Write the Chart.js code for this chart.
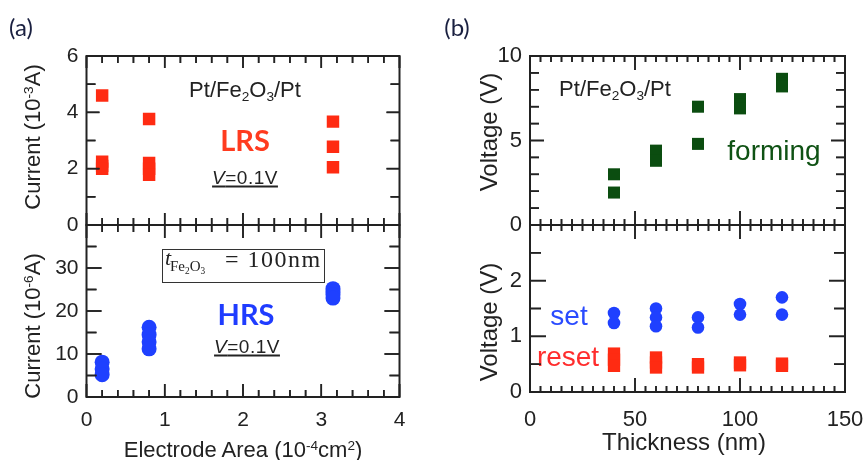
<!DOCTYPE html>
<html>
<head>
<meta charset="utf-8">
<script src="https://cdn.jsdelivr.net/npm/chart.js@4.4.1/dist/chart.umd.min.js"></script>
<style>
  html, body { margin: 0; padding: 0; background: #fff; }
  #fig { position: relative; width: 867px; height: 460px; overflow: hidden; font-family: "Liberation Sans", Arial, sans-serif; color: #222; }
  #fig canvas { position: absolute; left: 0; top: 0; }
  .t { position: absolute; transform: translate(-50%, -50%); white-space: nowrap; line-height: 1; }
  .rot { transform: translate(-50%, -50%) rotate(-90deg); }
  sup, sub { font-size: 0.62em; line-height: 0; position: relative; vertical-align: baseline; }
  sup { top: -0.55em; }
  sub { top: 0.3em; }
  .tag { font-family: Lato, "Open Sans", sans-serif; font-size: 24px; color: #1a2040; }
  .axa { font-size: 22px; }
  .axb { font-size: 24px; }
  .note { font-size: 22px; }
  .big { font-family: Lato, "Open Sans", sans-serif; font-weight: 700; font-size: 29px; }
  .word { font-size: 28px; }
  .volt { font-size: 19px; letter-spacing: 0.5px; text-decoration: underline; text-decoration-thickness: 1.5px; text-underline-offset: 2px; }
  .box { position: absolute; left: 162px; top: 249px; width: 163px; height: 34px; box-sizing: border-box; border: 1.5px solid #333; font-family: "Liberation Serif", "Times New Roman", serif; color: #222; }
  .box span { position: absolute; white-space: nowrap; line-height: 1; }
</style>
</head>
<body>
<div id="fig">
  <canvas id="aTop" width="867" height="460"></canvas>
  <canvas id="aBottom" width="867" height="460"></canvas>
  <canvas id="bTop" width="867" height="460"></canvas>
  <canvas id="bBottom" width="867" height="460"></canvas>

  <div class="t tag" style="left:21px;top:27px">(a)</div>
  <div class="t tag" style="left:457px;top:27px">(b)</div>

  <div class="t rot axa" style="left:33px;top:137px">Current (10<sup>-3</sup>A)</div>
  <div class="t rot axa" style="left:33px;top:326px">Current (10<sup>-6</sup>A)</div>
  <div class="t axa" style="left:243px;top:450px">Electrode Area (10<sup>-4</sup>cm<sup>2</sup>)</div>
  <div class="t rot axb" style="left:489px;top:132px">Voltage (V)</div>
  <div class="t rot axb" style="left:489px;top:322px">Voltage (V)</div>
  <div class="t axb" style="left:684px;top:442px">Thickness (nm)</div>

  <div class="t note" style="left:245px;top:90px">Pt/Fe<sub>2</sub>O<sub>3</sub>/Pt</div>
  <div class="t big" style="left:245px;top:139px;color:#ff3b1f">LRS</div>
  <div class="t volt" style="left:245px;top:177px"><i>V</i>=0.1V</div>
  <div class="box">
    <span style="left:2px;top:-3px;font-size:22px;font-style:italic">t</span>
    <span style="left:7px;top:9px;font-size:15px">Fe<sub>2</sub>O<sub>3</sub></span>
    <span style="left:62px;top:-3px;font-size:24px;letter-spacing:1.5px">= 100nm</span>
  </div>
  <div class="t big" style="left:246px;top:313px;color:#1f3cff">HRS</div>
  <div class="t volt" style="left:247px;top:346px"><i>V</i>=0.1V</div>

  <div class="t note" style="left:615px;top:89px">Pt/Fe<sub>2</sub>O<sub>3</sub>/Pt</div>
  <div class="t word" style="left:774px;top:151px;color:#0f5214">forming</div>
  <div class="t word" style="left:569px;top:316px;color:#2a4bff">set</div>
  <div class="t word" style="left:568px;top:357px;color:#ff2d2d">reset</div>

  <canvas id="ticks" width="867" height="460"></canvas>
</div>

<script>
// values, grouped per x position
const electrodeArea = [0.2, 0.8, 3.15];
const lrsCurrent = [[4.6, 2.25, 2.1, 2.0], [3.76, 2.2, 2.0, 1.78], [3.67, 2.78, 2.05]];
const hrsCurrent = [[8.1, 6.5, 5.2], [16.2, 14.5, 12.8, 11.2], [25.2, 24.5, 23.8, 23.0]];
const areaTicks = [0, 1, 2, 3, 4];
const lrsTicks = [0, 2, 4, 6];
const hrsTicks = [0, 10, 20, 30];

const thickness = [40, 60, 80, 100, 120];
const formingVoltage = [[3.0, 1.92], [4.4, 4.1, 3.8], [7.0, 4.8], [7.45, 7.15, 6.9], [8.65, 8.4, 8.2]];
const setVoltage = [[1.42, 1.24], [1.5, 1.34, 1.18], [1.34, 1.16], [1.58, 1.39], [1.7, 1.39]];
const resetVoltage = [[0.69, 0.58, 0.47], [0.62, 0.53, 0.44], [0.5, 0.44], [0.53, 0.48], [0.51, 0.47]];
const thicknessTicks = [0, 50, 100, 150];
const formingTicks = [0, 5, 10];
const switchTicks = [0, 1, 2];

const RED = "#ff2b12";
const BLUE = "#1f40ff";
const GREEN = "#0b4d10";
const INK = "#222";
const FONT = '"Liberation Sans", Arial, sans-serif';

const toPoints = (xs, groups) => xs.flatMap((x, i) => groups[i].map((y) => ({ x, y })));

// inward ticks on all four sides, placed with the chart's own scales
const drawTicks = (ctx, chart, f) => {
    const a = chart.chartArea;
    const xs = chart.scales.x;
    const ys = chart.scales.y;
    const isMajor = (v, step) => Math.abs(v / step - Math.round(v / step)) < 1e-6;
    const w = 1.6;
    ctx.save();
    ctx.fillStyle = INK;
    const nx = Math.round((xs.max - xs.min) / f.xMinor);
    for (let i = 0; i <= nx; i++) {
        const v = xs.min + i * f.xMinor;
        const px = xs.getPixelForValue(v);
        const len = isMajor(v, f.xMajor) ? f.xLen[0] : f.xLen[1];
        ctx.fillRect(px - w / 2, a.bottom - len, w, len);
        ctx.fillRect(px - w / 2, a.top, w, len);
    }
    const ny = Math.round((ys.max - ys.min) / f.yMinor);
    for (let i = 0; i <= ny; i++) {
        const v = ys.min + i * f.yMinor;
        const py = ys.getPixelForValue(v);
        const len = isMajor(v, f.yMajor) ? f.yLen[0] : f.yLen[1];
        ctx.fillRect(a.left, py - w / 2, len, w);
        ctx.fillRect(a.right - len, py - w / 2, len, w);
    }
    ctx.restore();
};

// box around the plot area
const framePlugin = (f) => ({
    id: "frame",
    afterDraw(chart) {
        const { ctx, chartArea: a } = chart;
        drawTicks(ctx, chart, f);
        ctx.save();
        ctx.strokeStyle = INK;
        ctx.lineWidth = 2;
        ctx.strokeRect(a.left, a.top, a.right - a.left, a.bottom - a.top);
        ctx.restore();
    },
});

const makePanel = (id, o) =>
    new Chart(document.getElementById(id), {
        type: "scatter",
        data: { datasets: o.datasets },
        options: {
            responsive: false,
            animation: false,
            events: [],
            layout: { padding: o.padding },
            plugins: {
                legend: { display: false },
                tooltip: { enabled: false },
            },
            scales: {
                x: {
                    type: "linear",
                    min: o.xMin,
                    max: o.xMax,
                    display: o.xTicks.length > 0,
                    grid: { display: false, drawTicks: false },
                    border: { display: false },
                    ticks: {
                        color: INK,
                        font: { family: FONT, size: o.tickSize, lineHeight: 1.2 },
                        padding: o.xPad,
                        maxRotation: 0,
                        autoSkip: false,
                    },
                    afterBuildTicks: (s) => {
                        s.ticks = o.xTicks.map((v) => ({ value: v }));
                    },
                    afterFit: (s) => {
                        s.height = o.xHeight;
                        s.paddingLeft = 0;
                        s.paddingRight = 0;
                    },
                },
                y: {
                    type: "linear",
                    min: o.yMin,
                    max: o.yMax,
                    grid: { display: false, drawTicks: false },
                    border: { display: false },
                    ticks: {
                        color: INK,
                        font: { family: FONT, size: o.tickSize, lineHeight: 1.2 },
                        padding: o.yPad,
                        autoSkip: false,
                    },
                    afterBuildTicks: (s) => {
                        s.ticks = o.yTicks.map((v) => ({ value: v }));
                    },
                    afterFit: (s) => {
                        s.width = o.yWidth;
                        s.paddingTop = 0;
                        s.paddingBottom = 0;
                    },
                },
            },
        },
        plugins: [framePlugin(o.frame)],
    });

const squares = (data, color, r) => ({
    data,
    pointStyle: "rect",
    pointRadius: r,
    pointBackgroundColor: color,
    pointBorderWidth: 0,
});
const dots = (data, color, r) => ({
    data,
    pointStyle: "circle",
    pointRadius: r,
    pointBackgroundColor: color,
    pointBorderWidth: 0,
});

const panels = [
    {
        id: "aTop",
        datasets: [squares(toPoints(electrodeArea, lrsCurrent), RED, 8.8)],
        padding: { left: 0, top: 56, right: 467.5, bottom: 235 },
        xMin: 0, xMax: 4, xTicks: [], xHeight: 0, xPad: 0,
        yMin: 0, yMax: 6, yTicks: lrsTicks, yWidth: 86.5, yPad: 8,
        tickSize: 21,
        frame: { xMinor: 0.2, xMajor: 1, xLen: [12, 7], yMinor: 1, yMajor: 2, yLen: [13, 9] },
    },
    {
        id: "aBottom",
        datasets: [dots(toPoints(electrodeArea, hrsCurrent), BLUE, 7.5)],
        padding: { left: 0, top: 225, right: 467.5, bottom: 0 },
        xMin: 0, xMax: 4, xTicks: areaTicks, xHeight: 63, xPad: 11,
        yMin: 0, yMax: 40, yTicks: hrsTicks, yWidth: 86.5, yPad: 8,
        tickSize: 21,
        frame: { xMinor: 0.2, xMajor: 1, xLen: [13, 7], yMinor: 5, yMajor: 10, yLen: [15, 10] },
    },
    {
        id: "bTop",
        datasets: [squares(toPoints(thickness, formingVoltage), GREEN, 8.5)],
        padding: { left: 0, top: 56, right: 22, bottom: 235 },
        xMin: 0, xMax: 150, xTicks: [], xHeight: 0, xPad: 0,
        yMin: 0, yMax: 10, yTicks: formingTicks, yWidth: 530, yPad: 8,
        tickSize: 22,
        frame: { xMinor: 5, xMajor: 50, xLen: [14, 6], yMinor: 1, yMajor: 5, yLen: [14, 9] },
    },
    {
        id: "bBottom",
        datasets: [
            dots(toPoints(thickness, setVoltage), BLUE, 6.3),
            squares(toPoints(thickness, resetVoltage), RED, 8.7),
        ],
        padding: { left: 0, top: 225, right: 22, bottom: 0 },
        xMin: 0, xMax: 150, xTicks: thicknessTicks, xHeight: 68, xPad: 15,
        yMin: 0, yMax: 3, yTicks: switchTicks, yWidth: 530, yPad: 8,
        tickSize: 22,
        frame: { xMinor: 5, xMajor: 50, xLen: [14, 6], yMinor: 0.5, yMajor: 1, yLen: [16, 11] },
    },
];

const charts = panels.map((p) => makePanel(p.id, p));

// second pass on a canvas above everything else, from the same scales
const tickCtx = document.getElementById("ticks").getContext("2d");
charts.forEach((chart, i) => drawTicks(tickCtx, chart, panels[i].frame));
</script>
</body>
</html>
